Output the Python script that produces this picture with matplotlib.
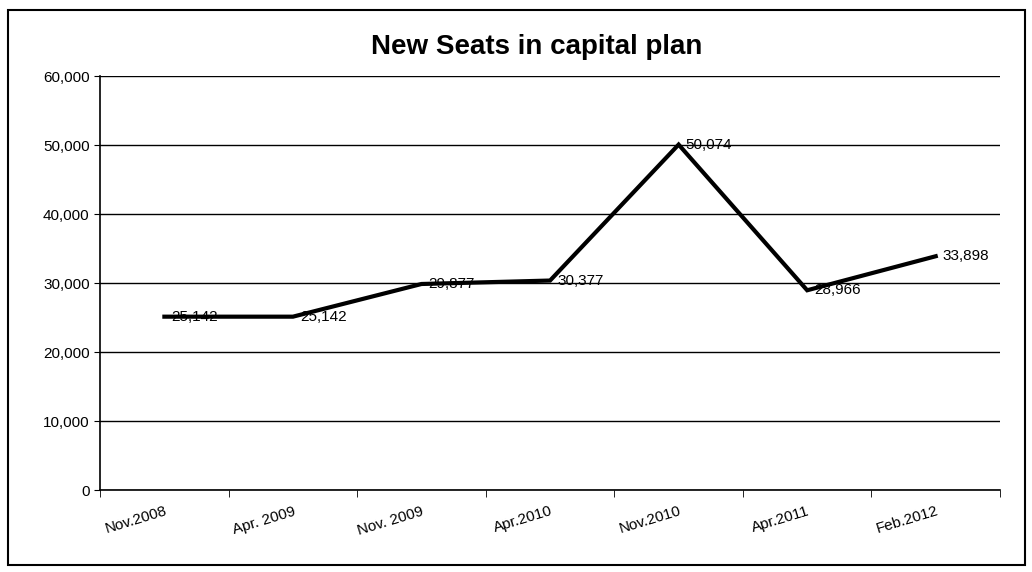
import matplotlib
matplotlib.use("Agg")
import matplotlib.pyplot as plt
from matplotlib.patches import Rectangle

categories = ["Nov.2008", "Apr. 2009", "Nov. 2009", "Apr.2010", "Nov.2010", "Apr.2011", "Feb.2012"]
new_seats = [25142, 25142, 29877, 30377, 50074, 28966, 33898]
y_ticks = [0, 10000, 20000, 30000, 40000, 50000, 60000]

plt.rcParams['font.family'] = ['Liberation Sans', 'DejaVu Sans']

fig = plt.figure(figsize=(10.32, 5.72), dpi=100)
fig.patches.append(Rectangle((0.008, 0.012), 0.985, 0.97, transform=fig.transFigure,
                             fill=False, edgecolor='black', linewidth=1.5))

ax = fig.add_axes([0.097, 0.143, 0.872, 0.724])
x = list(range(len(categories)))
ax.plot(x, new_seats, color='black', linewidth=3, solid_joinstyle='miter')
for xi, v in zip(x, new_seats):
    ax.annotate(f"{v:,}", (xi, v), xytext=(5, 0), textcoords='offset points',
                va='center', ha='left', fontsize=11)

ax.set_xlim(-0.5, len(categories) - 0.5)
ax.set_ylim(0, 60000)
ax.set_yticks(y_ticks)
ax.set_yticklabels([f"{t:,}" for t in y_ticks], fontsize=11)
ax.set_xticks(x)
ax.set_xticklabels(categories, rotation=17, ha='right', rotation_mode='anchor', fontsize=11)
ax.set_xticks([i - 0.5 for i in range(len(categories) + 1)], minor=True)
ax.tick_params(axis='x', which='major', length=0, pad=10)
ax.tick_params(axis='x', which='minor', length=5, direction='out')
ax.tick_params(axis='y', length=4, direction='out')
ax.grid(axis='y', color='black', linewidth=1)
ax.set_axisbelow(True)
for s in ['top', 'right']:
    ax.spines[s].set_visible(False)
for s in ['left', 'bottom']:
    ax.spines[s].set_linewidth(1.2)

fig.text(0.52, 0.917, "New Seats in capital plan", ha='center', va='center',
         fontsize=20, fontweight='bold')

fig.savefig("out.png", dpi=100)
